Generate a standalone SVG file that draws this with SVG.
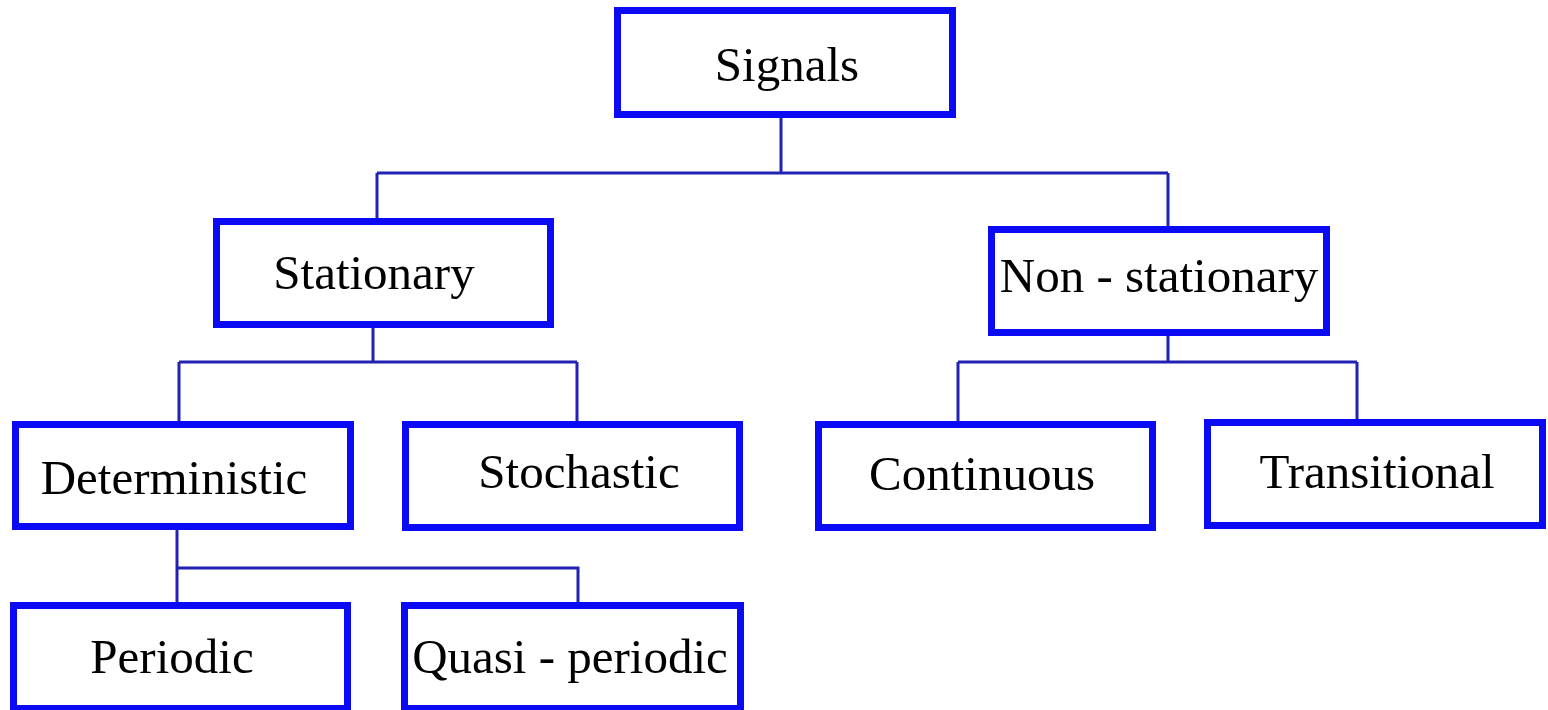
<svg xmlns="http://www.w3.org/2000/svg" width="1548" height="710" viewBox="0 0 1548 710">
<style>
.box{fill:#ffffff;stroke:#0a0af5;stroke-width:7}
.lbl{font-family:"Liberation Serif","Times New Roman",serif;font-size:49px;fill:#000000;text-anchor:middle}
.conn{fill:none;stroke:#2222b4;stroke-width:3}
</style>
<rect width="1548" height="710" fill="#ffffff"/>
<g id="connectors">
<path class="conn" d="M781 118 V173 M377 173 H1168 M377 173 V218 M1168 173 V226"/>
<path class="conn" d="M373 328 V362 M179 362 H577 M179 362 V421 M577 362 V421"/>
<path class="conn" d="M1168 336 V362 M958 362 H1357 M958 362 V421 M1357 362 V419"/>
<path class="conn" d="M177 528 V602 M177 568 H578 V602"/>
</g>
<g id="signals"><rect class="box" x="617.5" y="10.5" width="335" height="104"/><text class="lbl" x="787" y="81">Signals</text></g>
<g id="stationary"><rect class="box" x="216.5" y="221.5" width="334" height="103"/><text class="lbl" x="374" y="289">Stationary</text></g>
<g id="non-stationary"><rect class="box" x="991.5" y="229.5" width="335" height="103"/><text class="lbl" x="1159" y="292">Non - stationary</text></g>
<g id="deterministic"><rect class="box" x="15.5" y="424.5" width="335" height="102"/><text class="lbl" x="174" y="494">Deterministic</text></g>
<g id="stochastic"><rect class="box" x="405.5" y="424.5" width="334" height="103"/><text class="lbl" x="579" y="488">Stochastic</text></g>
<g id="continuous"><rect class="box" x="818.5" y="424.5" width="334" height="103"/><text class="lbl" x="982" y="490">Continuous</text></g>
<g id="transitional"><rect class="box" x="1207.5" y="422.5" width="335" height="103"/><text class="lbl" x="1377" y="488">Transitional</text></g>
<g id="periodic"><rect class="box" x="13.5" y="605.5" width="334" height="103"/><text class="lbl" x="172" y="673">Periodic</text></g>
<g id="quasi-periodic"><rect class="box" x="404.5" y="605.5" width="336" height="103"/><text class="lbl" x="570" y="673">Quasi - periodic</text></g>
</svg>
